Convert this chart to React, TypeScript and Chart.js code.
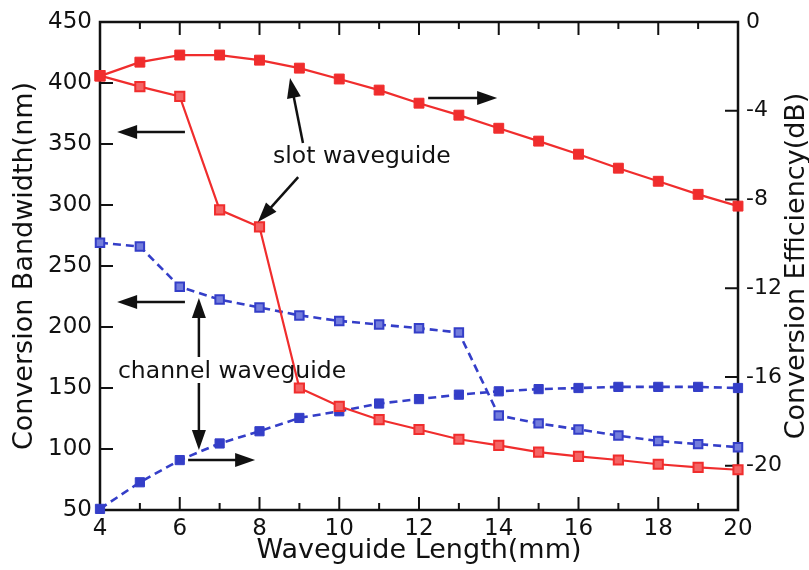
import React, { useEffect, useRef } from "react";
import { Chart, registerables } from "chart.js";

Chart.register(...registerables);

// ---- data ----
const lengths = [4, 5, 6, 7, 8, 9, 10, 11, 12, 13, 14, 15, 16, 17, 18, 19, 20];
const slotBandwidth = [406, 397, 389, 296, 282, 150, 135, 124, 116, 108, 103, 97.5, 94, 91, 87.5, 85, 83];
const slotEfficiency = [-2.44, -1.81, -1.49, -1.49, -1.72, -2.08, -2.57, -3.07, -3.66, -4.2, -4.79, -5.37, -5.96, -6.59, -7.18, -7.77, -8.3];
const channelBandwidth = [269, 266, 233, 222.5, 216, 209.5, 205, 202, 199, 195.5, 127.5, 121, 116, 111, 106.5, 104, 101.5];
const channelEfficiency = [-21.95, -20.75, -19.75, -19.0, -18.45, -17.85, -17.55, -17.2, -17.0, -16.8, -16.65, -16.55, -16.5, -16.45, -16.45, -16.45, -16.5];

const xTickLabels = [4, 6, 8, 10, 12, 14, 16, 18, 20];
const leftTicks = [50, 100, 150, 200, 250, 300, 350, 400, 450];
const rightTicks = [0, -4, -8, -12, -16, -20];

const xTitle = "Waveguide Length(mm)";
const leftTitle = "Conversion Bandwidth(nm)";
const rightTitle = "Conversion Efficiency(dB)";

// annotations in data coordinates (x: mm, y: nm on left axis)
const arrows = [
  { from: [9.09, 350.8], to: [8.765, 404] },
  { from: [8.97, 322.9], to: [7.96, 286] },
  { from: [6.13, 359.8], to: [4.43, 359.8] },
  { from: [12.23, 387.7], to: [13.96, 387.7] },
  { from: [6.13, 220.5], to: [4.43, 220.5] },
  { from: [6.48, 175.4], to: [6.48, 223.8] },
  { from: [6.48, 154.1], to: [6.48, 99.2] },
  { from: [6.21, 91], to: [7.89, 91] },
];
const labels = [
  { text: "slot waveguide", at: [8.34, 339.3] },
  { text: "channel waveguide", at: [4.45, 163.1] },
];

const RED = "rgb(240,45,45)";
const RED_LIGHT = "rgb(244,100,100)";
const BLUE = "rgb(52,62,200)";
const BLUE_LIGHT = "rgb(115,125,220)";
const FONT = "DejaVu Sans";

const framePlugin = {
  id: "framePlugin",
  beforeDatasetsDraw(chart: any) {
    const { ctx, chartArea: a, scales } = chart;
    const x = scales.x, yl = scales.y, yr = scales.y1;
    ctx.save();
    ctx.strokeStyle = "#111";
    ctx.lineWidth = 2.5;
    ctx.strokeRect(a.left, a.top, a.right - a.left, a.bottom - a.top);
    ctx.lineWidth = 2;
    ctx.beginPath();
    for (let v = 4; v <= 20; v++) {
      const px = x.getPixelForValue(v);
      const len = v % 2 === 0 ? 13 : 7;
      ctx.moveTo(px, a.bottom);
      ctx.lineTo(px, a.bottom - len);
      ctx.moveTo(px, a.top);
      ctx.lineTo(px, a.top + len);
    }
    leftTicks.forEach((v) => {
      const py = yl.getPixelForValue(v);
      ctx.moveTo(a.left, py);
      ctx.lineTo(a.left + 13, py);
    });
    rightTicks.forEach((v) => {
      const py = yr.getPixelForValue(v);
      ctx.moveTo(a.right, py);
      ctx.lineTo(a.right - 13, py);
    });
    ctx.stroke();

    // titles
    ctx.fillStyle = "#111";
    ctx.font = `27px "${FONT}"`;
    ctx.textAlign = "center";
    ctx.textBaseline = "middle";
    ctx.fillText(xTitle, (a.left + a.right) / 2, 551);
    ctx.save();
    ctx.translate(25, 266);
    ctx.rotate(-Math.PI / 2);
    ctx.fillText(leftTitle, 0, 0);
    ctx.restore();
    ctx.save();
    ctx.translate(797, 266);
    ctx.rotate(-Math.PI / 2);
    ctx.fillText(rightTitle, 0, 0);
    ctx.restore();
    ctx.restore();
  },
  afterDatasetsDraw(chart: any) {
    const { ctx, scales } = chart;
    const x = scales.x, y = scales.y;
    ctx.save();
    ctx.strokeStyle = "#111";
    ctx.fillStyle = "#111";
    ctx.lineWidth = 2.5;
    arrows.forEach(({ from, to }) => {
      const x1 = x.getPixelForValue(from[0]);
      const y1 = y.getPixelForValue(from[1]);
      const x2 = x.getPixelForValue(to[0]);
      const y2 = y.getPixelForValue(to[1]);
      const ang = Math.atan2(y2 - y1, x2 - x1);
      const hl = 20, hw = 7;
      const bx = x2 - hl * Math.cos(ang);
      const by = y2 - hl * Math.sin(ang);
      ctx.beginPath();
      ctx.moveTo(x1, y1);
      ctx.lineTo(bx + 2 * Math.cos(ang), by + 2 * Math.sin(ang));
      ctx.stroke();
      ctx.beginPath();
      ctx.moveTo(x2, y2);
      ctx.lineTo(bx - hw * Math.sin(ang), by + hw * Math.cos(ang));
      ctx.lineTo(bx + hw * Math.sin(ang), by - hw * Math.cos(ang));
      ctx.closePath();
      ctx.fill();
    });
    ctx.font = `23.5px "${FONT}"`;
    ctx.textAlign = "left";
    ctx.textBaseline = "middle";
    labels.forEach(({ text, at }) => {
      ctx.fillText(text, x.getPixelForValue(at[0]), y.getPixelForValue(at[1]));
    });
    ctx.restore();
  },
};

export default function App() {
  const ref = useRef<HTMLCanvasElement | null>(null);
  useEffect(() => {
    if (!ref.current) return;
    const pts = (ys: number[]) => lengths.map((l, i) => ({ x: l, y: ys[i] }));
    const chart = new Chart(ref.current, {
      type: "line",
      data: {
        datasets: [
          {
            label: "slot efficiency",
            data: pts(slotEfficiency),
            yAxisID: "y1",
            borderColor: RED,
            borderWidth: 2.2,
            pointStyle: "rect",
            pointRadius: 7,
            pointBackgroundColor: RED,
            pointBorderColor: RED,
            pointBorderWidth: 1,
            clip: 12,
          },
          {
            label: "slot bandwidth",
            data: pts(slotBandwidth),
            yAxisID: "y",
            borderColor: RED,
            borderWidth: 2.2,
            pointStyle: "rect",
            pointRadius: 6.5,
            pointBackgroundColor: RED_LIGHT,
            pointBorderColor: RED,
            pointBorderWidth: 2,
            clip: 12,
          },
          {
            label: "channel efficiency",
            data: pts(channelEfficiency),
            yAxisID: "y1",
            borderColor: BLUE,
            borderWidth: 2.6,
            borderDash: [8, 5],
            pointStyle: "rect",
            pointRadius: 6.5,
            pointBackgroundColor: BLUE,
            pointBorderColor: BLUE,
            pointBorderWidth: 1,
            clip: 12,
          },
          {
            label: "channel bandwidth",
            data: pts(channelBandwidth),
            yAxisID: "y",
            borderColor: BLUE,
            borderWidth: 2.6,
            borderDash: [8, 5],
            pointStyle: "rect",
            pointRadius: 6,
            pointBackgroundColor: BLUE_LIGHT,
            pointBorderColor: BLUE,
            pointBorderWidth: 2,
            clip: 12,
          },
        ],
      },
      options: {
        animation: false,
        responsive: true,
        maintainAspectRatio: false,
        layout: { padding: { top: 22, left: 0, right: 0, bottom: 0 } },
        plugins: { legend: { display: false }, tooltip: { enabled: false } },
        scales: {
          x: {
            type: "linear",
            min: 4,
            max: 20,
            grid: { display: false, drawTicks: false },
            border: { display: false },
            afterBuildTicks: (axis: any) => {
              axis.ticks = xTickLabels.map((v) => ({ value: v }));
            },
            afterFit: (s: any) => {
              s.height = 60;
            },
            ticks: {
              color: "#111",
              font: { family: FONT, size: 23 },
              padding: 5,
              maxRotation: 0,
              autoSkip: false,
            },
          },
          y: {
            type: "linear",
            position: "left",
            min: 50,
            max: 450,
            grid: { display: false, drawTicks: false },
            border: { display: false },
            afterBuildTicks: (axis: any) => {
              axis.ticks = leftTicks.map((v) => ({ value: v }));
            },
            afterFit: (s: any) => {
              s.width = 100;
            },
            ticks: {
              color: "#111",
              font: { family: FONT, size: 23 },
              padding: 8,
            },
          },
          y1: {
            type: "linear",
            position: "right",
            min: -22,
            max: 0,
            grid: { display: false, drawTicks: false },
            border: { display: false },
            afterBuildTicks: (axis: any) => {
              axis.ticks = rightTicks.map((v) => ({ value: v }));
            },
            afterFit: (s: any) => {
              s.width = 71;
            },
            ticks: {
              color: "#111",
              font: { family: FONT, size: 22 },
              padding: 8,
            },
          },
        },
      },
      plugins: [framePlugin],
    } as any);
    return () => chart.destroy();
  }, []);
  return (
    <div style={{ position: "absolute", left: 0, top: 0, width: 809, height: 570, background: "#fff" }}>
      <canvas ref={ref} />
    </div>
  );
}
